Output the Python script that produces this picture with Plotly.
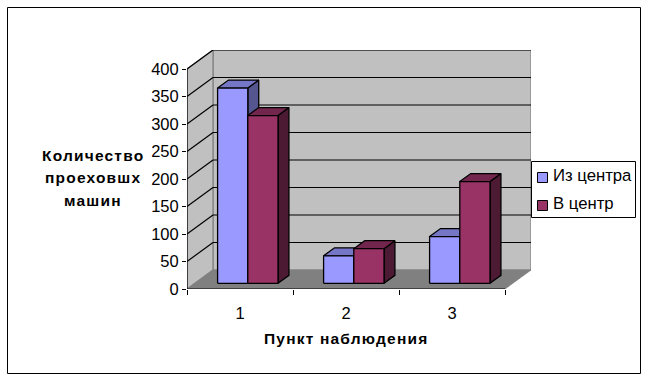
import plotly.graph_objects as go

categories = [1, 2, 3]
series_names = ["Из центра", "В центр"]
from_center = [355, 50, 85]
to_center = [305, 63, 185]
y_ticks = [0, 50, 100, 150, 200, 250, 300, 350, 400]
y_title_lines = ["Количество", "проеховшх", "машин"]
x_title = "Пункт наблюдения"

W, H = 648, 380
L, R, T, B = 187, 531, 50, 289      # plot box in page pixels
X_UNIT, Y_UNIT = 106.0, 0.55        # pixels per category / per value
DX, DY = 26 / X_UNIT, 19 / Y_UNIT   # oblique depth vector, in data units
X0, X1 = 0.5, 3.5
YMAX = 400
BAR_W = 0.285
D_FRONT, D_BACK = 0.30, 0.72
FONT = "Liberation Sans, Arial, sans-serif"

COL = [dict(front="#9999FF", top="#7676C6", side="#55558F"),
       dict(front="#993366", top="#73264D", side="#4D1A33")]


def P(x, y, d):
    return x + d * DX, y + d * DY


def poly(points, fill, line="black", lw=1.3):
    xs, ys = zip(*(points + points[:1]))
    return go.Scatter(x=xs, y=ys, mode="lines", fill="toself", fillcolor=fill,
                      line=dict(color=line, width=lw), hoverinfo="skip",
                      showlegend=False, cliponaxis=False)


def seg(a, b, color="black", lw=1.2):
    return go.Scatter(x=[a[0], b[0]], y=[a[1], b[1]], mode="lines",
                      line=dict(color=color, width=lw), hoverinfo="skip",
                      showlegend=False, cliponaxis=False)


fig = go.Figure()
# walls and floor
fig.add_trace(poly([P(X0, 0, 1), P(X1, 0, 1), P(X1, YMAX, 1), P(X0, YMAX, 1)], "#C0C0C0", "#808080", 1.2))
fig.add_trace(poly([P(X0, 0, 0), P(X0, 0, 1), P(X0, YMAX, 1), P(X0, YMAX, 0)], "#C0C0C0", "#808080", 1.2))
fig.add_trace(poly([P(X0, 0, 0), P(X1, 0, 0), P(X1, 0, 1), P(X0, 0, 1)], "#808080", "#808080", 0.8))
# gridlines
for v in y_ticks[1:]:
    fig.add_trace(seg(P(X0, v, 0), P(X0, v, 1)))
    fig.add_trace(seg(P(X0, v, 1), P(X1, v, 1)))
# axis lines
fig.add_trace(seg((X0, 0), (X0, YMAX)))
fig.add_trace(seg((X0, 0), (X1, 0)))

# bars, back to front
for cat, a, b in zip(categories, from_center, to_center):
    for i, val in enumerate((a, b)):
        x_a = cat - BAR_W + i * BAR_W
        x_b = x_a + BAR_W
        c = COL[i]
        fig.add_trace(poly([P(x_b, 0, D_FRONT), P(x_b, 0, D_BACK), P(x_b, val, D_BACK), P(x_b, val, D_FRONT)], c["side"]))
        fig.add_trace(poly([P(x_a, val, D_FRONT), P(x_b, val, D_FRONT), P(x_b, val, D_BACK), P(x_a, val, D_BACK)], c["top"]))
        fig.add_trace(poly([P(x_a, 0, D_FRONT), P(x_b, 0, D_FRONT), P(x_b, val, D_FRONT), P(x_a, val, D_FRONT)], c["front"]))


def px(x):
    return x / W


def py(y):
    return 1 - y / H


def spaced(text, sp):
    return f'<span style="letter-spacing:{sp}px">{text}</span>'


annotations = []
for line, yy in zip(y_title_lines, (155, 177.5, 200)):
    annotations.append(dict(text=spaced(line, 1.2), x=px(92.5), y=py(yy), xref="paper", yref="paper",
                            xanchor="center", yanchor="middle", showarrow=False,
                            font=dict(family=FONT, size=15.5, color="black", weight="bold")))
annotations.append(dict(text=spaced(x_title, 1.2), x=px(345.5), y=py(338), xref="paper", yref="paper",
                        xanchor="center", yanchor="middle", showarrow=False,
                        font=dict(family=FONT, size=15.5, color="black", weight="bold")))
for name, yy in zip(series_names, (175.5, 203.5)):
    annotations.append(dict(text=name, x=px(550.5), y=py(yy), xref="paper", yref="paper",
                            xanchor="left", yanchor="middle", showarrow=False,
                            font=dict(family=FONT, size=16.7, color="black")))

shapes = [
    dict(type="rect", xref="paper", yref="paper", x0=px(7.5), x1=px(640.5), y0=py(7.5), y1=py(373.5),
         line=dict(color="black", width=1), fillcolor="rgba(0,0,0,0)", layer="below"),
    dict(type="rect", xref="paper", yref="paper", x0=px(531.5), x1=px(635.5), y0=py(161.5), y1=py(217.5),
         line=dict(color="black", width=1), fillcolor="white"),
]
for c, (y0, y1) in zip(COL, ((172, 183), (200, 211))):
    shapes.append(dict(type="rect", xref="paper", yref="paper", x0=px(537.5), x1=px(547.5), y0=py(y0 + .5), y1=py(y1 - .5),
                       line=dict(color="black", width=1), fillcolor=c["front"]))

fig.update_layout(
    width=W, height=H, autosize=False,
    margin=dict(l=0, r=0, t=0, b=0, pad=0, autoexpand=False),
    paper_bgcolor="white", plot_bgcolor="rgba(0,0,0,0)",
    showlegend=False,
    font=dict(family=FONT, size=16, color="black"),
    xaxis=dict(domain=[px(L), px(R)], range=[X0, X0 + (R - L) / X_UNIT], showgrid=False, zeroline=False,
               showline=False, automargin=False, tickmode="array", tickvals=categories, ticktext=[str(c) for c in categories],
               ticks="outside", ticklen=0, ticklabelstandoff=9, tickfont=dict(size=16.5),
               minor=dict(tickmode="array", tickvals=[0.5, 1.5, 2.5, 3.5], ticks="outside", ticklen=5,
                          tickcolor="black", tickwidth=1, showgrid=False)),
    yaxis=dict(domain=[py(B), py(T)], range=[0, (B - T) / Y_UNIT], showgrid=False, zeroline=False,
               showline=False, automargin=False, tickmode="array", tickvals=y_ticks, ticktext=[str(v) for v in y_ticks],
               ticks="outside", ticklen=4, tickcolor="black", tickwidth=1, tickfont=dict(size=16.5)),
    annotations=annotations, shapes=shapes,
)
fig.write_html("out.html", config={"displayModeBar": False},
               post_script="document.body.style.margin='0';document.body.style.overflow='hidden';")
